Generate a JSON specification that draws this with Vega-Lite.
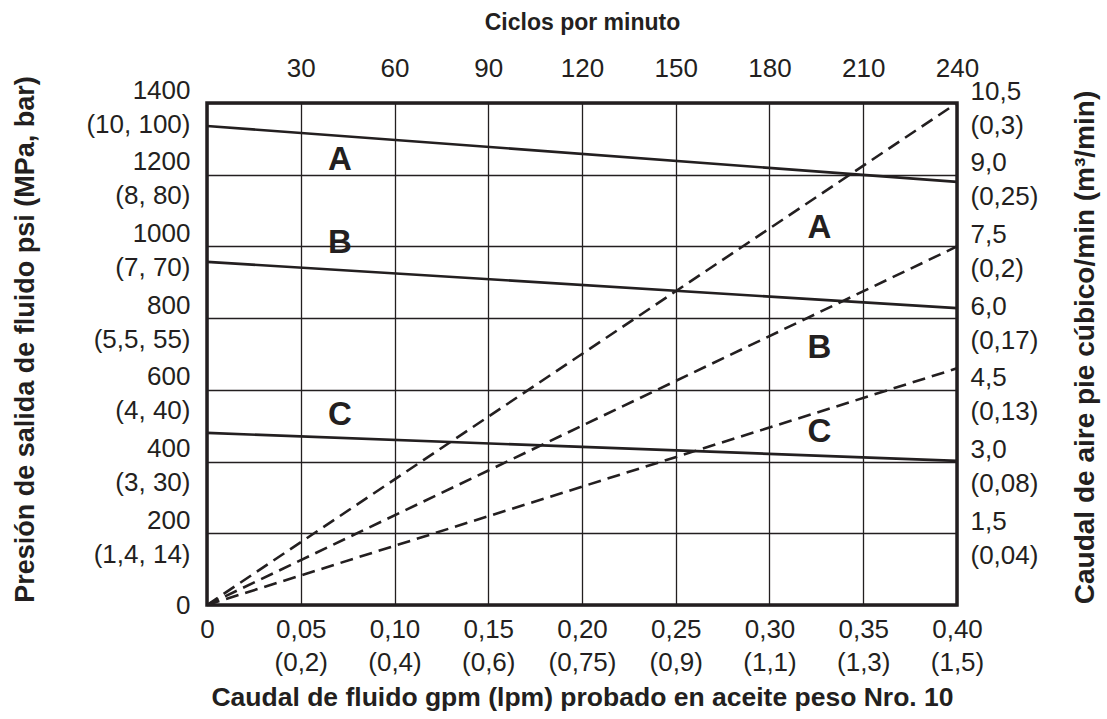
{
  "$schema": "https://vega.github.io/schema/vega-lite/v6.json",
  "width": 750,
  "height": 502,
  "autosize": {"type": "none"},
  "padding": {"left": 207, "top": 103, "right": 150, "bottom": 114},
  "background": "white",
  "config": {
    "font": "Liberation Sans",
    "view": {"stroke": "#231f20", "strokeWidth": 3.5},
    "axis": {
      "labelFont": "Liberation Sans",
      "labelFontSize": 26,
      "labelColor": "#231f20",
      "labelLineHeight": 34,
      "labelOverlap": false,
      "labelFlush": false,
      "labelBound": false,
      "ticks": false,
      "domain": false,
      "titleFont": "Liberation Sans",
      "titleFontSize": 27,
      "titleFontWeight": "bold",
      "titleColor": "#231f20",
      "gridColor": "#231f20",
      "gridOpacity": 1,
      "gridWidth": 1.3
    }
  },
  "datasets": {
    "pressure": [
      {"series": "A", "gpm": 0, "psi": 1336},
      {"series": "A", "gpm": 0.4, "psi": 1180},
      {"series": "B", "gpm": 0, "psi": 957},
      {"series": "B", "gpm": 0.4, "psi": 828},
      {"series": "C", "gpm": 0, "psi": 480},
      {"series": "C", "gpm": 0.4, "psi": 402}
    ],
    "pressureLabels": [
      {"label": "A", "gpm": 0.0709, "psi": 1241},
      {"label": "B", "gpm": 0.0709, "psi": 1010},
      {"label": "C", "gpm": 0.0709, "psi": 530}
    ],
    "air": [
      {"series": "A", "cpm": 0, "cfm": 0},
      {"series": "A", "cpm": 240, "cfm": 10.5},
      {"series": "B", "cpm": 0, "cfm": 0},
      {"series": "B", "cpm": 240, "cfm": 7.5},
      {"series": "C", "cpm": 0, "cfm": 0},
      {"series": "C", "cpm": 240, "cfm": 4.95}
    ],
    "airLabels": [
      {"label": "A", "cpm": 196, "cfm": 7.89},
      {"label": "B", "cpm": 196, "cfm": 5.38},
      {"label": "C", "cpm": 196, "cfm": 3.62}
    ]
  },
  "layer": [
    {
      "layer": [
        {
          "data": {"name": "pressure"},
          "mark": {"type": "line", "color": "#231f20", "strokeWidth": 2.6},
          "encoding": {
            "x": {
              "field": "gpm", "type": "quantitative",
              "scale": {"domain": [0, 0.4], "nice": false, "zero": true},
              "axis": {
                "orient": "bottom",
                "values": [0, 0.05, 0.1, 0.15, 0.2, 0.25, 0.3, 0.35, 0.4],
                "grid": true,
                "labelPadding": 11,
                "labelLineHeight": 33,
                "labelExpr": "['0',['0,05','(0,2)'],['0,10','(0,4)'],['0,15','(0,6)'],['0,20','(0,75)'],['0,25','(0,9)'],['0,30','(1,1)'],['0,35','(1,3)'],['0,40','(1,5)']][round(datum.value*20)]",
                "title": "Caudal de fluido gpm (lpm) probado en aceite peso Nro. 10",
                "titleFontSize": 26.5,
                "titleX": 375,
                "titleY": 92,
                "titleBaseline": "middle"
              }
            },
            "y": {
              "field": "psi", "type": "quantitative",
              "scale": {"domain": [0, 1400], "nice": false, "zero": true},
              "axis": {
                "orient": "left",
                "values": [0, 200, 400, 600, 800, 1000, 1200, 1400],
                "grid": true,
                "labelPadding": 17,
                "labelOffset": {"condition": {"test": "datum.value == 0", "value": 0}, "value": -13},
                "labelExpr": "['0',['200','(1,4, 14)'],['400','(3, 30)'],['600','(4, 40)'],['800','(5,5, 55)'],['1000','(7, 70)'],['1200','(8, 80)'],['1400','(10, 100)']][round(datum.value/200)]",
                "title": "Presión de salida de fluido psi (MPa, bar)",
                "titleAngle": -90,
                "titleX": -182,
                "titleY": 236,
                "titleBaseline": "middle"
              }
            },
            "detail": {"field": "series"}
          }
        },
        {
          "data": {"name": "pressureLabels"},
          "mark": {"type": "text", "fontSize": 33, "fontWeight": "bold", "color": "#231f20", "font": "Liberation Sans", "baseline": "middle", "align": "center"},
          "encoding": {
            "x": {"field": "gpm", "type": "quantitative"},
            "y": {"field": "psi", "type": "quantitative"},
            "text": {"field": "label"}
          }
        }
      ]
    },
    {
      "layer": [
        {
          "data": {"name": "air"},
          "mark": {"type": "line", "color": "#231f20", "strokeWidth": 2.6, "strokeDash": [13, 7]},
          "encoding": {
            "x": {
              "field": "cpm", "type": "quantitative",
              "scale": {"domain": [0, 240], "nice": false, "zero": true},
              "axis": {
                "orient": "top",
                "values": [30, 60, 90, 120, 150, 180, 210, 240],
                "grid": false,
                "labelPadding": 22,
                "title": "Ciclos por minuto",
                "titleFontSize": 23,
                "titleX": 375,
                "titleY": -81,
                "titleBaseline": "middle"
              }
            },
            "y": {
              "field": "cfm", "type": "quantitative",
              "scale": {"domain": [0, 10.5], "nice": false, "zero": true},
              "axis": {
                "orient": "right",
                "values": [1.5, 3, 4.5, 6, 7.5, 9, 10.5],
                "grid": false,
                "labelPadding": 13,
                "labelOffset": -12,
                "labelExpr": "['',['1,5','(0,04)'],['3,0','(0,08)'],['4,5','(0,13)'],['6,0','(0,17)'],['7,5','(0,2)'],['9,0','(0,25)'],['10,5','(0,3)']][round(datum.value/1.5)]",
                "title": "Caudal de aire pie cúbico/min (m³/min)",
                "titleFontSize": 28,
                "titleAngle": -90,
                "titleX": 128,
                "titleY": 244,
                "titleBaseline": "middle"
              }
            },
            "detail": {"field": "series"}
          }
        },
        {
          "data": {"name": "airLabels"},
          "mark": {"type": "text", "fontSize": 33, "fontWeight": "bold", "color": "#231f20", "font": "Liberation Sans", "baseline": "middle", "align": "center"},
          "encoding": {
            "x": {"field": "cpm", "type": "quantitative"},
            "y": {"field": "cfm", "type": "quantitative"},
            "text": {"field": "label"}
          }
        }
      ]
    }
  ],
  "resolve": {"scale": {"x": "independent", "y": "independent"}}
}
